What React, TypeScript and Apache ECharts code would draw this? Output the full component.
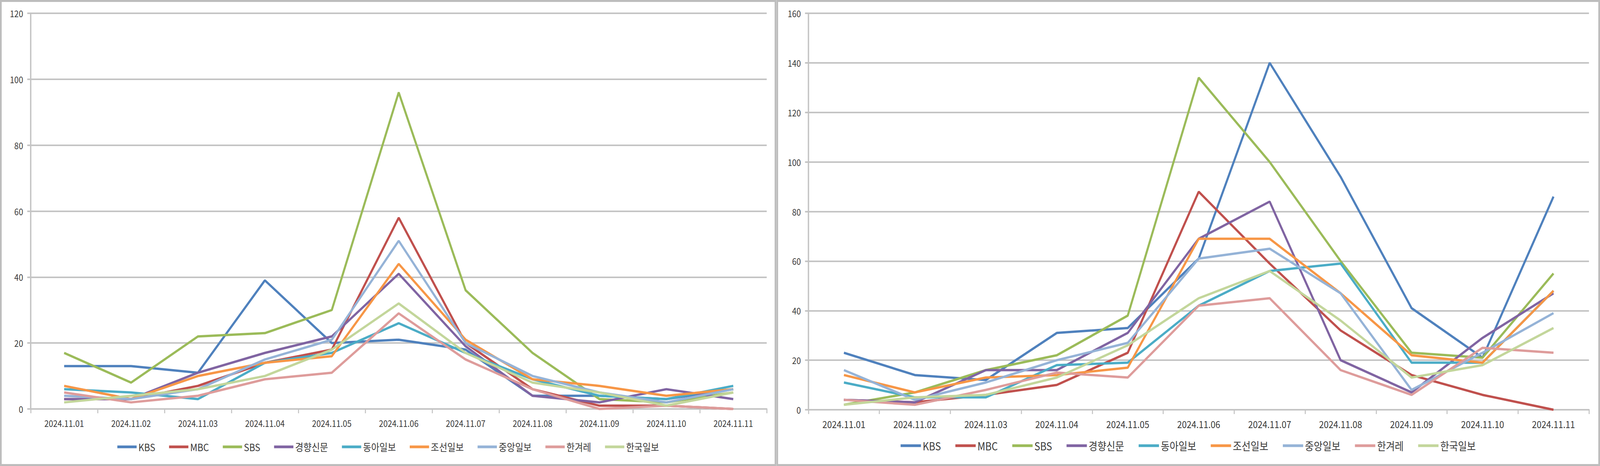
import React, { useEffect, useRef, useState } from "react";
import * as echarts from "echarts";

const dates = [
  "2024.11.01", "2024.11.02", "2024.11.03", "2024.11.04", "2024.11.05", "2024.11.06",
  "2024.11.07", "2024.11.08", "2024.11.09", "2024.11.10", "2024.11.11",
];
const seriesNames = ["KBS", "MBC", "SBS", "경향신문", "동아일보", "조선일보", "중앙일보", "한겨레", "한국일보"];
const seriesColors = ["#4F81BD", "#C0504D", "#9BBB59", "#8064A2", "#4BACC6", "#F79646", "#95B3D7", "#DE9C9B", "#C3D69B"];

// Left chart (y max 120)
const leftKBS = [13, 13, 11, 39, 20, 21, 18, 4, 4, 3, 6];
const leftMBC = [3, 3, 7, 14, 18, 58, 20, 6, 1, 1, 0];
const leftSBS = [17, 8, 22, 23, 30, 96, 36, 17, 3, 2, 5];
const leftKyunghyang = [3, 3, 11, 17, 22, 41, 19, 4, 2, 6, 3];
const leftDonga = [6, 5, 3, 14, 17, 26, 17, 9, 4, 3, 7];
const leftChosun = [7, 3, 10, 14, 16, 44, 21, 9, 7, 4, 6];
const leftJoongang = [4, 3, 6, 15, 21, 51, 20, 10, 5, 2, 6];
const leftHankyoreh = [5, 2, 4, 9, 11, 29, 15, 6, 0, 1, 0];
const leftHankook = [2, 4, 6, 10, 18, 32, 17, 8, 5, 1, 5];

// Right chart (y max 160)
const rightKBS = [23, 14, 12, 31, 33, 61, 140, 94, 41, 21, 86];
const rightMBC = [4, 3, 6, 10, 23, 88, 59, 32, 14, 6, 0];
const rightSBS = [2, 7, 16, 22, 38, 134, 100, 60, 23, 21, 55];
const rightKyunghyang = [4, 3, 16, 16, 31, 69, 84, 20, 7, 29, 47];
const rightDonga = [11, 5, 5, 18, 19, 42, 56, 59, 19, 19, 48];
const rightChosun = [14, 7, 13, 14, 17, 69, 69, 47, 22, 19, 48];
const rightJoongang = [16, 4, 11, 20, 27, 61, 65, 47, 8, 23, 39];
const rightHankyoreh = [4, 2, 8, 15, 13, 42, 45, 16, 6, 25, 23];
const rightHankook = [2, 5, 6, 13, 26, 45, 56, 36, 13, 18, 33];

const leftData = [leftKBS, leftMBC, leftSBS, leftKyunghyang, leftDonga, leftChosun, leftJoongang, leftHankyoreh, leftHankook];
const rightData = [rightKBS, rightMBC, rightSBS, rightKyunghyang, rightDonga, rightChosun, rightJoongang, rightHankyoreh, rightHankook];

const FONT = '"Noto Sans CJK KR", "Noto Sans", sans-serif';
const GRID_COLOR = "#C4C4C4";
const TEXT_COLOR = "#3A3A3A";
const DESIGN_W = 4639;
const DESIGN_H = 1193;

type ChartProps = {
  data: number[][];
  yMax: number;
  grid: { left: number; right: number; top: number; bottom: number };
  xFont: number;
  yFont: number;
  legendFont: number;
  legendTop: number;
  legendItemWidth: number;
  legendGap: number;
};

function LineChart(props: ChartProps) {
  const ref = useRef<HTMLDivElement>(null);
  useEffect(() => {
    if (!ref.current) return;
    const chart = echarts.init(ref.current, undefined, { renderer: "svg" });
    chart.setOption({
      animation: false,
      backgroundColor: "#FFFFFF",
      textStyle: { fontFamily: FONT },
      grid: { ...props.grid, containLabel: false },
      legend: {
        data: seriesNames,
        left: "center",
        top: props.legendTop,
        icon: "rect",
        itemWidth: props.legendItemWidth,
        itemHeight: 7,
        itemGap: props.legendGap,
        padding: 0,
        textStyle: { fontSize: props.legendFont, color: TEXT_COLOR, fontFamily: FONT },
      },
      xAxis: {
        type: "category",
        data: dates,
        boundaryGap: true,
        axisLine: { show: true, lineStyle: { color: GRID_COLOR, width: 4 } },
        axisTick: { show: true, length: 11, lineStyle: { color: GRID_COLOR, width: 3 } },
        axisLabel: { fontSize: props.xFont, color: TEXT_COLOR, margin: 24, fontFamily: FONT, interval: 0 },
        splitLine: { show: false },
      },
      yAxis: {
        type: "value",
        min: 0,
        max: props.yMax,
        interval: 20,
        axisLine: { show: true, lineStyle: { color: GRID_COLOR, width: 4 } },
        axisTick: { show: true, length: 10, lineStyle: { color: GRID_COLOR, width: 4 } },
        axisLabel: { fontSize: props.yFont, color: TEXT_COLOR, margin: 22, fontFamily: FONT },
        splitLine: { show: true, lineStyle: { color: GRID_COLOR, width: 4 } },
      },
      series: seriesNames.map((name, i) => ({
        name,
        type: "line",
        data: props.data[i],
        symbol: "none",
        smooth: false,
        color: seriesColors[i],
        lineStyle: { width: 6, color: seriesColors[i] },
      })),
    });
    return () => chart.dispose();
  }, []);
  return <div ref={ref} style={{ width: "100%", height: "100%" }} />;
}

export default function App() {
  const [vp] = useState(() => ({ w: window.innerWidth, h: window.innerHeight }));
  const sx = vp.w / DESIGN_W;
  const sy = vp.h / DESIGN_H;
  const panel: React.CSSProperties = {
    position: "absolute",
    top: 0,
    height: DESIGN_H,
    boxSizing: "border-box",
    border: "5px solid #BDBDBD",
    background: "#FFFFFF",
  };
  return (
    <div
      style={{
        position: "fixed",
        left: 0,
        top: 0,
        width: DESIGN_W,
        height: DESIGN_H,
        background: "#FFFFFF",
        transformOrigin: "0 0",
        transform: `scale(${sx}, ${sy})`,
      }}
    >
      <div style={{ ...panel, left: 0, width: 2251 }}>
        <LineChart
          data={leftData}
          yMax={120}
          grid={{ left: 84, right: 23, top: 29, bottom: 141 }}
          xFont={23}
          yFont={23}
          legendFont={26}
          legendTop={1126}
          legendItemWidth={56}
          legendGap={40}
        />
      </div>
      <div style={{ ...panel, left: 2251, width: 2388 }}>
        <LineChart
          data={rightData}
          yMax={160}
          grid={{ left: 88, right: 27, top: 29, bottom: 139 }}
          xFont={25}
          yFont={23}
          legendFont={28}
          legendTop={1122}
          legendItemWidth={59}
          legendGap={42}
        />
      </div>
    </div>
  );
}
